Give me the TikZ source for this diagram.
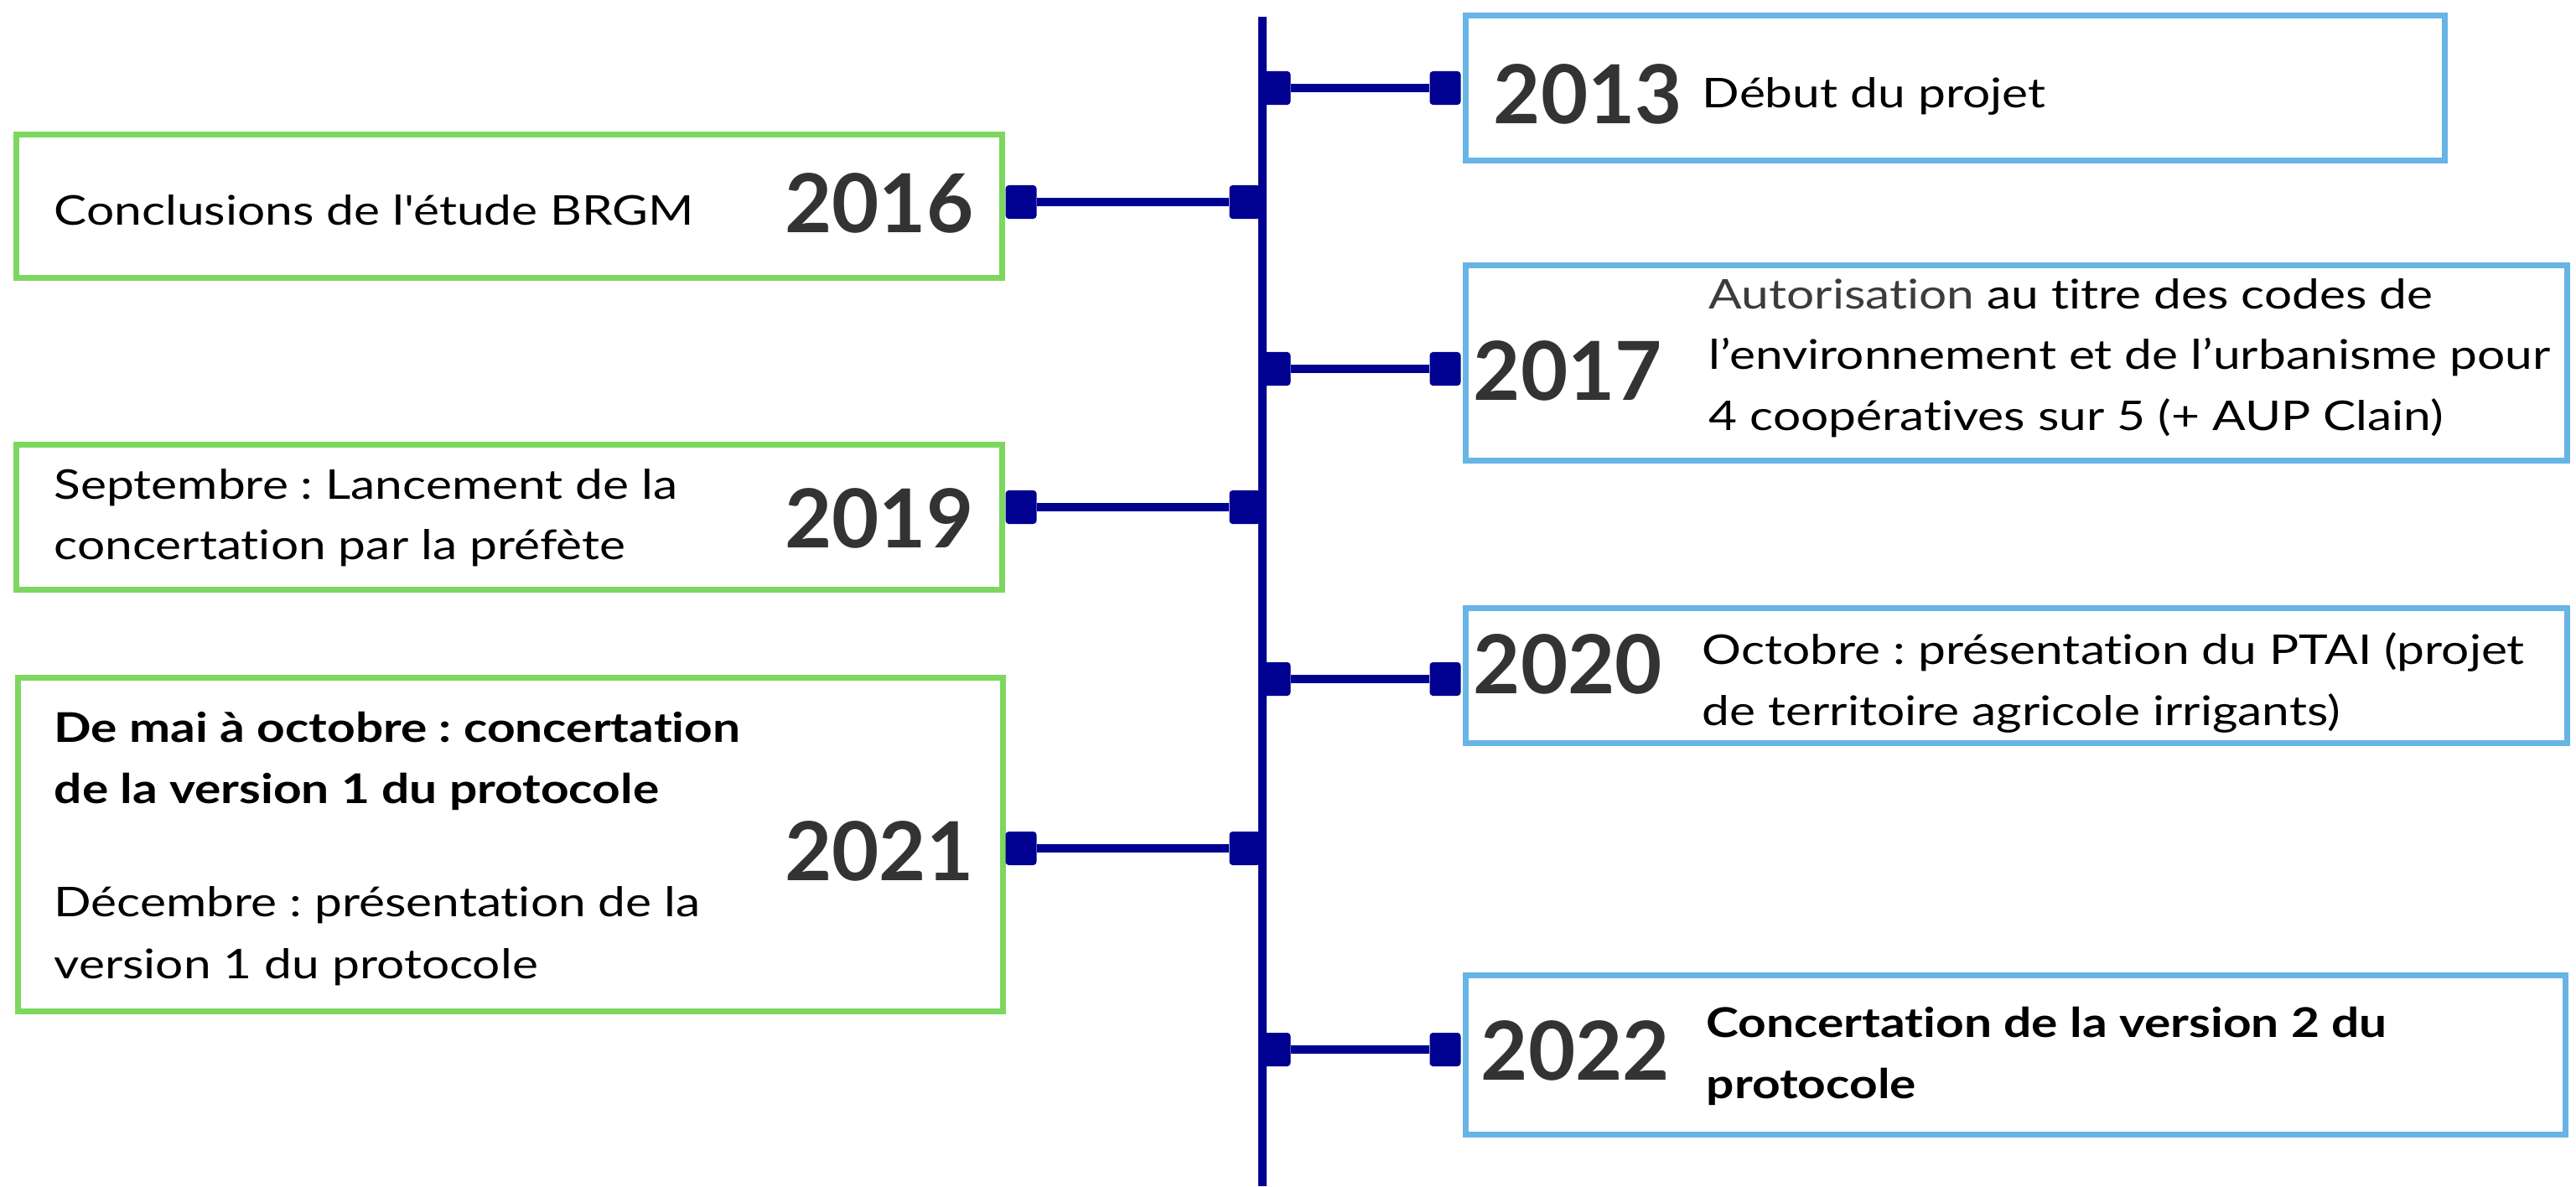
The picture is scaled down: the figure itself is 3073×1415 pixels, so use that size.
\documentclass[tikz,border=0pt]{standalone}
\usepackage{fontspec}
\newfontfamily\bodyfont{Lato}[FakeStretch=1.2, Ligatures=NoCommon]
\newfontfamily\yearfont{Lato}[Ligatures=NoCommon]
\definecolor{navy}{HTML}{000091}
\definecolor{boxgreen}{HTML}{7DD75F}
\definecolor{boxblue}{HTML}{68B4E5}
\definecolor{yeargray}{HTML}{333333}
\definecolor{softgray}{HTML}{3C3C3C}
\begin{document}
\frenchspacing
\begin{tikzpicture}[x=0.01cm,y=-0.01cm,
  gbox/.style={draw=boxgreen, line width=2pt, inner sep=0pt},
  bbox/.style={draw=boxblue, line width=2pt, inner sep=0pt},
  yeartxt/.style={font=\yearfont\fontsize{27.6}{30}\selectfont\bfseries, text=yeargray, inner sep=0pt},
  bodytxt/.style={font=\bodyfont\fontsize{13.9}{20}\selectfont, text=black, inner sep=0pt},
  boldtxt/.style={font=\bodyfont\fontsize{13.9}{20}\selectfont\bfseries, text=black, inner sep=0pt},
  sqr/.style={fill=navy, minimum width=0.37cm, minimum height=0.40cm, rounded corners=1.1pt, inner sep=0pt},
  bar/.style={draw=navy, line width=2.7pt},
  axis/.style={draw=navy, line width=2.6pt}]
\fill[white] (0,0) rectangle (3073,1415);
\useasboundingbox (0,0) rectangle (3073,1415);

% timeline axis
\coordinate (ltop) at (1506,20);
\coordinate (lbot) at (1506,1415);
\draw[axis] (ltop) -- (lbot);

% boxes
\node[gbox, minimum width=11.75cm, minimum height=1.70cm] (b16) at (607.5,246) {};
\node[gbox, minimum width=11.75cm, minimum height=1.72cm] (b19) at (607.5,617) {};
\node[gbox, minimum width=11.75cm, minimum height=3.97cm] (b21) at (609,1007.5) {};
\node[bbox, minimum width=11.67cm, minimum height=1.72cm] (b13) at (2332.5,105) {};
\node[bbox, minimum width=13.13cm, minimum height=2.32cm] (b17) at (2405.5,433) {};
\node[bbox, minimum width=13.13cm, minimum height=1.60cm] (b20) at (2405.5,806) {};
\node[bbox, minimum width=13.11cm, minimum height=1.89cm] (b22) at (2404.5,1258.5) {};

% connectors, right side
\node[sqr] (s13a) at (1521,105) {};
\node[sqr] (s13b) at (1724,105) {};
\draw[bar] (s13a) -- (s13b);
\node[sqr] (s17a) at (1521,440) {};
\node[sqr] (s17b) at (1724,440) {};
\draw[bar] (s17a) -- (s17b);
\node[sqr] (s20a) at (1521,810) {};
\node[sqr] (s20b) at (1724,810) {};
\draw[bar] (s20a) -- (s20b);
\node[sqr] (s22a) at (1521,1252) {};
\node[sqr] (s22b) at (1724,1252) {};
\draw[bar] (s22a) -- (s22b);

% connectors, left side
\node[sqr] (s16a) at (1218,241) {};
\node[sqr] (s16b) at (1485,241) {};
\draw[bar] (s16a) -- (s16b);
\node[sqr] (s19a) at (1218,605) {};
\node[sqr] (s19b) at (1485,605) {};
\draw[bar] (s19a) -- (s19b);
\node[sqr] (s21a) at (1218,1012) {};
\node[sqr] (s21b) at (1485,1012) {};
\draw[bar] (s21a) -- (s21b);

% years
\node[yeartxt, anchor=base west] (y13) at (1781,147) {2013};
\node[yeartxt, anchor=base east] (y16) at (1162,277) {2016};
\node[yeartxt, anchor=base west] (y17) at (1757,477) {2017};
\node[yeartxt, anchor=base east] (y19) at (1162,653) {2019};
\node[yeartxt, anchor=base west] (y20) at (1757,827) {2020};
\node[yeartxt, anchor=base east] (y21) at (1162,1050) {2021};
\node[yeartxt, anchor=base west] (y22) at (1766,1288) {2022};

% texts
\node[bodytxt, anchor=base west] (t13) at (2030,128) {Début du projet};
\node[bodytxt, anchor=base west] (t16) at (64,268) {Conclusions de l'étude BRGM};
\node[bodytxt, anchor=base west] (t17a) at (2038,368) {\textcolor{softgray}{Autorisation} au titre des codes de};
\node[bodytxt, anchor=base west] (t17b) at (2038,440) {l’environnement et de l’urbanisme pour};
\node[bodytxt, anchor=base west] (t17c) at (2038,513) {4 coopératives sur 5 (+ AUP Clain)};
\node[bodytxt, anchor=base west] (t19a) at (64,595) {Septembre : Lancement de la};
\node[bodytxt, anchor=base west] (t19b) at (64,667) {concertation par la préfète};
\node[bodytxt, anchor=base west] (t20a) at (2030,792) {Octobre : présentation du PTAI (projet};
\node[bodytxt, anchor=base west] (t20b) at (2030,865) {de territoire agricole irrigants)};
\node[boldtxt, anchor=base west] (t21a) at (64,885) {De mai à octobre : concertation};
\node[boldtxt, anchor=base west] (t21b) at (64,958) {de la version 1 du protocole};
\node[bodytxt, anchor=base west] (t21c) at (64,1093) {Décembre : présentation de la};
\node[bodytxt, anchor=base west] (t21d) at (64,1167) {version 1 du protocole};
\node[boldtxt, anchor=base west] (t22a) at (2035,1237) {Concertation de la version 2 du};
\node[boldtxt, anchor=base west] (t22b) at (2035,1310) {protocole};
\end{tikzpicture}
\end{document}
